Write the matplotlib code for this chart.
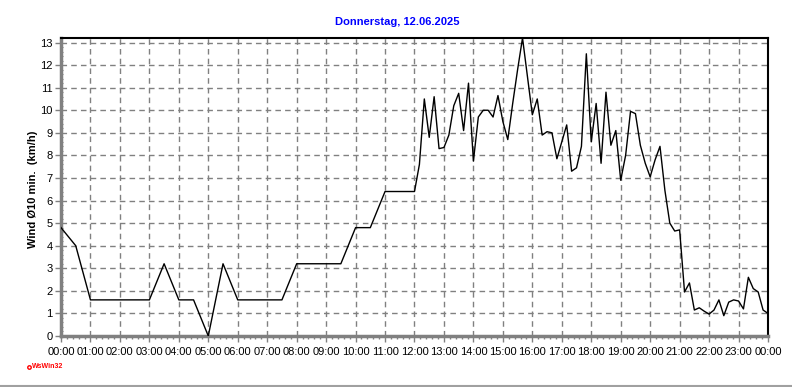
import matplotlib
matplotlib.use("Agg")
import matplotlib.pyplot as plt
from matplotlib.ticker import MultipleLocator, FixedLocator
from matplotlib.lines import Line2D

plt.rcParams['font.family'] = ['Liberation Sans', 'DejaVu Sans']

title = "Donnerstag, 12.06.2025"
ylabel = "Wind Ø10 min.  (km/h)"
xtick_labels = ["00:00", "01:00", "02:00", "03:00", "04:00", "05:00", "06:00", "07:00",
                "08:00", "09:00", "10:00", "11:00", "12:00", "13:00", "14:00", "15:00",
                "16:00", "17:00", "18:00", "19:00", "20:00", "21:00", "22:00", "23:00", "00:00"]

times = ["00:00", "00:30", "01:00", "01:30", "02:00", "02:30", "03:00", "03:30",
         "04:00", "04:30", "05:00", "05:30", "06:00", "06:30", "07:00", "07:30",
         "08:00", "08:30", "09:00", "09:30", "10:00", "10:30", "11:00", "11:30",
         "12:00", "12:10", "12:20", "12:30", "12:40", "12:50",
         "13:00", "13:10", "13:20", "13:30", "13:40", "13:50",
         "14:00", "14:10", "14:20", "14:30", "14:40", "14:50",
         "15:00", "15:10", "15:20", "15:30", "15:40", "15:50",
         "16:00", "16:10", "16:20", "16:30", "16:40", "16:50",
         "17:00", "17:10", "17:20", "17:30", "17:40", "17:50",
         "18:00", "18:10", "18:20", "18:30", "18:40", "18:50",
         "19:00", "19:10", "19:20", "19:30", "19:40", "19:50",
         "20:00", "20:10", "20:20", "20:30", "20:40", "20:50",
         "21:00", "21:10", "21:20", "21:30", "21:40", "21:50",
         "22:00", "22:10", "22:20", "22:30", "22:40", "22:50",
         "23:00", "23:10", "23:20", "23:30", "23:40", "23:50", "24:00"]

wind = [4.8, 4.0, 1.6, 1.6, 1.6, 1.6, 1.6, 3.2,
        1.6, 1.6, 0.0, 3.2, 1.6, 1.6, 1.6, 1.6,
        3.2, 3.2, 3.2, 3.2, 4.8, 4.8, 6.4, 6.4,
        6.4, 7.6, 10.5, 8.8, 10.6, 8.3,
        8.35, 8.9, 10.2, 10.75, 9.1, 11.2,
        7.75, 9.7, 10.0, 10.0, 9.7, 10.65,
        9.5, 8.7, 10.3, 11.8, 13.2, 11.5,
        9.8, 10.5, 8.9, 9.05, 9.0, 7.85,
        8.6, 9.35, 7.3, 7.45, 8.4, 12.5,
        8.6, 10.3, 7.65, 10.8, 8.45, 9.1,
        6.9, 8.0, 9.95, 9.85, 8.45, 7.65,
        7.05, 7.8, 8.4, 6.45, 5.0, 4.65,
        4.7, 1.95, 2.35, 1.15, 1.25, 1.1,
        0.97, 1.15, 1.6, 0.9, 1.5, 1.6,
        1.55, 1.2, 2.6, 2.1, 1.95, 1.15, 1.0]

hours = [int(t[:2]) + int(t[3:]) / 60.0 for t in times]

W, H = 792, 387
fig = plt.figure(figsize=(W / 100, H / 100), dpi=100, facecolor='white')
ax = fig.add_axes([61 / W, 1 - 336 / H, (768 - 61) / W, (336 - 38) / H])
ax.set_facecolor('white')

ax.plot(hours, wind, color='black', linewidth=1.0, zorder=3)

ax.set_xlim(0, 24)
ax.set_ylim(0, 13.2)

ax.xaxis.set_major_locator(FixedLocator(list(range(25))))
ax.set_xticklabels(xtick_labels)
ax.xaxis.set_minor_locator(MultipleLocator(0.2))
ax.yaxis.set_major_locator(FixedLocator(list(range(14))))
ax.yaxis.set_minor_locator(MultipleLocator(0.2))

ax.grid(True, which='major', color='#808080', linestyle=(0, (4, 3)), linewidth=1.0)

ax.tick_params(axis='both', which='major', length=4, width=1, color='#808080',
               labelsize=8, pad=2, labelcolor='black')
ax.tick_params(axis='x', which='minor', length=2.5, width=1, color='#808080')
ax.tick_params(axis='y', which='minor', length=1.5, width=0.8, color='#808080', direction='in')
ax.tick_params(axis='x', which='major', pad=4)

for s in ['left', 'bottom']:
    ax.spines[s].set_color('#808080')
    ax.spines[s].set_linewidth(2.5)
for s in ['top', 'right']:
    ax.spines[s].set_color('black')
    ax.spines[s].set_linewidth(1.5)

fig.text(397 / W, 1 - 22 / H, title, color='#0000FF', fontsize=8, fontweight='bold',
         ha='center', va='center')
fig.text(33 / W, 1 - 189 / H, ylabel, color='black', fontsize=8, fontweight='bold',
         rotation=90, ha='center', va='center')

fig.text(32 / W, 1 - 367 / H, "WsWin32", color='#FF0000', fontsize=5, fontweight='bold',
         ha='left', va='center')
fig.add_artist(Line2D([29 / W], [1 - 367 / H], marker='o', markersize=2.5,
                      markerfacecolor='white', markeredgecolor='#FF0000', markeredgewidth=1,
                      transform=fig.transFigure))
fig.add_artist(Line2D([0, 1], [1 - 385.5 / H, 1 - 385.5 / H], color='#A0A0A0', linewidth=1.5,
                      transform=fig.transFigure))

fig.savefig("out.png", dpi=100, facecolor='white')
